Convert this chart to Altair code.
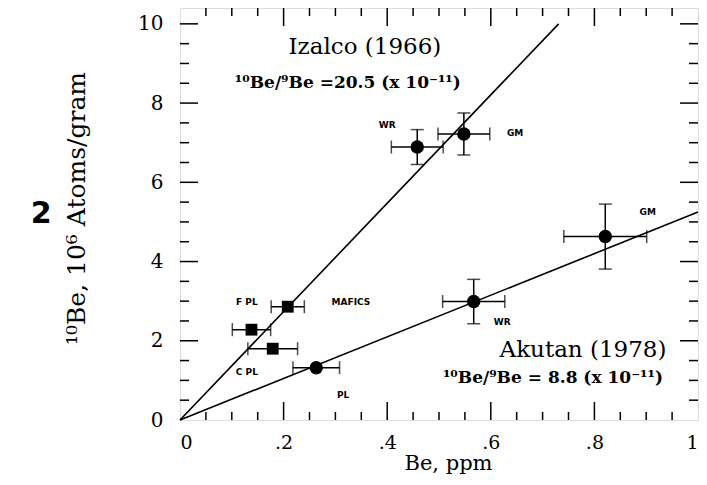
import altair as alt
import pandas as pd

# ---- data ----
pt_name = ["F PL", "MAFICS", "C PL", "WR", "GM", "PL", "WR", "GM"]
pt_group = ["Izalco", "Izalco", "Izalco", "Izalco", "Izalco", "Akutan", "Akutan", "Akutan"]
pt_shape = ["square", "square", "square", "circle", "circle", "circle", "circle", "circle"]
pt_x = [0.138, 0.208, 0.179, 0.458, 0.548, 0.263, 0.567, 0.821]
pt_y = [2.28, 2.86, 1.80, 6.89, 7.22, 1.32, 2.99, 4.63]
pt_xerr = [0.037, 0.032, 0.048, 0.05, 0.05, 0.045, 0.06, 0.08]
pt_yerr = [0.0, 0.0, 0.0, 0.44, 0.53, 0.0, 0.56, 0.82]

fit_group = ["Izalco", "Izalco", "Akutan", "Akutan"]
fit_x = [0.0, 0.731, 0.0, 1.0]
fit_y = [0.0, 10.0, 0.0, 5.25]

lab_text = ["WR", "GM", "F PL", "MAFICS", "C PL", "PL", "WR", "GM"]
lab_x = [0.40, 0.647, 0.129, 0.33, 0.129, 0.315, 0.622, 0.903]
lab_y = [7.45, 7.25, 2.98, 2.98, 1.21, 0.63, 2.47, 5.25]

title_text = ["Izalco (1966)", "Akutan (1978)"]
title_x = [0.357, 0.778]
title_y = [9.42, 1.77]

ratio_text = ["¹⁰Be/⁹Be =20.5 (x 10⁻¹¹)", "¹⁰Be/⁹Be = 8.8 (x 10⁻¹¹)"]
ratio_x = [0.324, 0.72]
ratio_y = [8.51, 1.06]

x_labels = [0, 0.2, 0.4, 0.6, 0.8, 1.0]
y_labels = [0, 2, 4, 6, 8, 10]
x_major = [0.2, 0.4, 0.6, 0.8]
x_minor = [0.05, 0.1, 0.15, 0.25, 0.3, 0.35, 0.45, 0.5, 0.55, 0.65, 0.7, 0.75, 0.85, 0.9, 0.95]
y_major = [2, 4, 6, 8, 10]
y_minor = [0.5, 1, 1.5, 2.5, 3, 3.5, 4.5, 5, 5.5, 6.5, 7, 7.5, 8.5, 9, 9.5]

W, H = 518, 412
SERIF = "DejaVu Serif"

pts = pd.DataFrame({"name": pt_name, "group": pt_group, "shape": pt_shape,
                    "x": pt_x, "y": pt_y, "xerr": pt_xerr, "yerr": pt_yerr})
pts["xlo"] = pts["x"] - pts["xerr"]
pts["xhi"] = pts["x"] + pts["xerr"]
pts["ylo"] = pts["y"] - pts["yerr"]
pts["yhi"] = pts["y"] + pts["yerr"]
pts_y = pts[pts["yerr"] > 0]

fits = pd.DataFrame({"group": fit_group, "x": fit_x, "y": fit_y})
labs = pd.DataFrame({"text": lab_text, "x": lab_x, "y": lab_y})
titles = pd.DataFrame({"text": title_text, "x": title_x, "y": title_y})
ratios = pd.DataFrame({"text": ratio_text, "x": ratio_x, "y": ratio_y})

xs = alt.Scale(domain=[0, 1], nice=False, zero=False)
ys = alt.Scale(domain=[0, 10.4], nice=False, zero=False)

x_axis = alt.Axis(
    values=x_labels, grid=False, domain=False, tickSize=0, labelPadding=13,
    labelFont=SERIF, labelFontSize=19, labelColor="black",
    labelExpr="datum.value == 0 ? '0' : datum.value == 1 ? '1' : replace(format(datum.value, '.1f'), '0.', '.')",
    title="Be, ppm", titleFont=SERIF, titleFontSize=21, titleFontWeight="normal",
    titleColor="black", titlePadding=0, titleX=268)
y_axis = alt.Axis(
    values=y_labels, grid=False, domain=False, tickSize=0, labelPadding=17,
    labelFont=SERIF, labelFontSize=20, labelColor="black", format="d",
    title="¹⁰Be, 10⁶ Atoms/gram", titleFont=SERIF, titleFontSize=25,
    titleFontWeight="normal", titleColor="black", titlePadding=48, titleY=200)


def X(f="x"):
    return alt.X(f"{f}:Q", scale=xs, axis=x_axis)


def Y(f="y"):
    return alt.Y(f"{f}:Q", scale=ys, axis=y_axis)


lines = alt.Chart(fits).mark_line(color="black", strokeWidth=1.6).encode(
    x=X(), y=Y(), detail="group:N")


def tick_layer(vals, axis, side, length):
    df = pd.DataFrame({"v": vals})
    base = alt.Chart(df).mark_rule(color="black", strokeWidth=1.5)
    if axis == "x":
        if side == "bottom":
            return base.encode(x=X("v"), y=alt.value(H), y2=alt.value(H - length))
        return base.encode(x=X("v"), y=alt.value(0), y2=alt.value(length))
    if side == "left":
        return base.encode(y=Y("v"), x=alt.value(0), x2=alt.value(length))
    return base.encode(y=Y("v"), x=alt.value(W), x2=alt.value(W - length))


ticks = [
    tick_layer(x_major, "x", "bottom", 18), tick_layer(x_minor, "x", "bottom", 8),
    tick_layer(x_major, "x", "top", 18), tick_layer(x_minor, "x", "top", 8),
    tick_layer(y_major, "y", "left", 18), tick_layer(y_minor, "y", "left", 9),
    tick_layer(y_major, "y", "right", 18), tick_layer(y_minor, "y", "right", 9),
]

xerr = alt.Chart(pts).mark_rule(color="black", strokeWidth=1.5).encode(
    x=X("xlo"), x2="xhi:Q", y=Y("y"))
xcap_lo = alt.Chart(pts).mark_tick(color="black", orient="vertical", size=13, thickness=1.5).encode(
    x=X("xlo"), y=Y("y"))
xcap_hi = alt.Chart(pts).mark_tick(color="black", orient="vertical", size=13, thickness=1.5).encode(
    x=X("xhi"), y=Y("y"))
yerr = alt.Chart(pts_y).mark_rule(color="black", strokeWidth=1.5).encode(
    x=X("x"), y=Y("ylo"), y2="yhi:Q")
ycap_lo = alt.Chart(pts_y).mark_tick(color="black", orient="horizontal", size=13, thickness=1.5).encode(
    x=X("x"), y=Y("ylo"))
ycap_hi = alt.Chart(pts_y).mark_tick(color="black", orient="horizontal", size=13, thickness=1.5).encode(
    x=X("x"), y=Y("yhi"))

squares = alt.Chart(pts).transform_filter("datum.shape == 'square'").mark_point(
    shape="square", filled=True, color="black", opacity=1, size=140).encode(x=X(), y=Y())
circles = alt.Chart(pts).transform_filter("datum.shape == 'circle'").mark_point(
    shape="circle", filled=True, color="black", opacity=1, size=180).encode(x=X(), y=Y())

small = alt.Chart(labs).mark_text(font="DejaVu Sans", fontSize=9, fontWeight="bold",
                                  color="black").encode(x=X(), y=Y(), text="text:N")
big = alt.Chart(titles).mark_text(font=SERIF, fontSize=23, color="black").encode(
    x=X(), y=Y(), text="text:N")
ratio = alt.Chart(ratios).mark_text(font=SERIF, fontSize=17, fontWeight="bold",
                                    color="black").encode(x=X(), y=Y(), text="text:N")

chart = alt.layer(
    lines, *ticks, xerr, xcap_lo, xcap_hi, yerr, ycap_lo, ycap_hi,
    squares, circles, small, big, ratio
).properties(
    width=W, height=H,
    title=alt.TitleParams("2", orient="left", angle=0, anchor="middle", align="right",
                          baseline="middle", font="DejaVu Sans", fontSize=30,
                          fontWeight="bold", color="black", offset=-8),
    autosize=alt.AutoSizeParams(type="none"),
    padding={"left": 172, "top": 0, "right": 1, "bottom": 57},
).configure_view(stroke="black", strokeWidth=2).configure(background="white")

chart.save("out.html", embed_options={"renderer": "svg", "actions": False})
